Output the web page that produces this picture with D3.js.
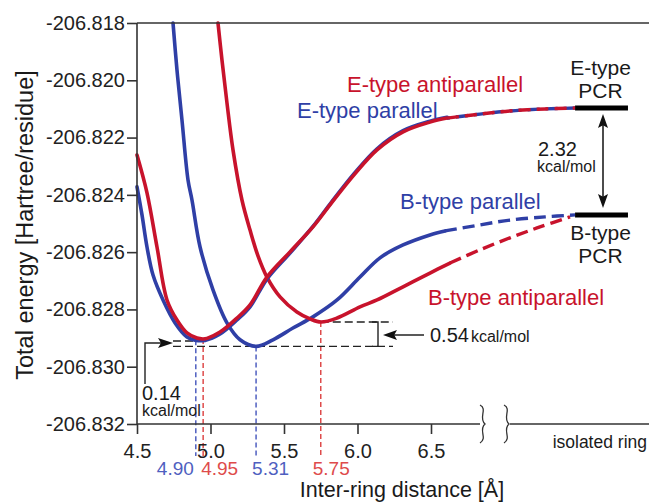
<!DOCTYPE html>
<html>
<head>
<meta charset="utf-8">
<script src="https://cdn.jsdelivr.net/npm/d3@7"></script>
<style>
  body { margin: 0; background: #fff; }
  svg { display: block; font-family: "Liberation Sans", Arial, sans-serif; }
</style>
</head>
<body>
<svg id="chart" width="649" height="502"></svg>
<script>
// values: [inter-ring distance (A), total energy (Hartree/residue)]
var eTypeAntiparallel = [[4.500,-206.82261],[4.568,-206.82393],[4.636,-206.82582],[4.704,-206.82767],[4.772,-206.82837],[4.840,-206.82882],[4.908,-206.82900],[4.949,-206.82903],[4.976,-206.82901],[5.065,-206.82879],[5.180,-206.82830],[5.269,-206.82784],[5.384,-206.82687],[5.541,-206.82599],[5.697,-206.82512],[5.813,-206.82435],[5.975,-206.82331],[6.133,-206.82243],[6.310,-206.82180],[6.493,-206.82146],[6.609,-206.82132]];
var eTypeParallel = [[4.500,-206.82372],[4.534,-206.82470],[4.568,-206.82582],[4.609,-206.82680],[4.677,-206.82767],[4.759,-206.82847],[4.840,-206.82896],[4.901,-206.82908],[4.963,-206.82908],[5.065,-206.82886],[5.180,-206.82837],[5.269,-206.82791],[5.384,-206.82694],[5.541,-206.82603],[5.697,-206.82510],[5.813,-206.82432],[5.975,-206.82327],[6.133,-206.82239],[6.310,-206.82176],[6.493,-206.82143],[6.609,-206.82129]];
var bTypeParallel = [[4.745,-206.81800],[4.772,-206.81964],[4.806,-206.82139],[4.847,-206.82348],[4.874,-206.82418],[4.929,-206.82582],[5.017,-206.82732],[5.112,-206.82847],[5.201,-206.82906],[5.310,-206.82929],[5.425,-206.82906],[5.561,-206.82865],[5.697,-206.82826],[5.861,-206.82767],[6.017,-206.82687],[6.153,-206.82620],[6.310,-206.82575],[6.493,-206.82540],[6.595,-206.82526]];
var bTypeAntiparallel = [[5.051,-206.81800],[5.078,-206.81929],[5.112,-206.82079],[5.153,-206.82243],[5.214,-206.82418],[5.269,-206.82523],[5.323,-206.82613],[5.384,-206.82687],[5.473,-206.82756],[5.588,-206.82809],[5.677,-206.82833],[5.752,-206.82844],[5.861,-206.82830],[6.017,-206.82791],[6.133,-206.82767],[6.310,-206.82721],[6.493,-206.82673],[6.629,-206.82638]];

// dashed extrapolation towards the isolated ring
var eTypeTail = [[6.609,-206.82132],[6.833,-206.82118],[7.037,-206.82107],[7.276,-206.82100],[7.480,-206.82097]];
var bParallelTail = [[6.595,-206.82526],[6.833,-206.82505],[7.037,-206.82488],[7.276,-206.82477],[7.480,-206.82470]];
var bAntiTail = [[6.629,-206.82638],[6.833,-206.82592],[7.037,-206.82550],[7.241,-206.82512],[7.446,-206.82477]];

// isolated PCR levels
var pcrLevels = [-206.82097, -206.82470];
var pcrNames = ["E-type", "B-type"];
var pcrSpan = [7.48, 7.84];

// minima
var minX = [4.90, 4.95, 5.31, 5.75];
var minE = [-206.82908, -206.82903, -206.82929, -206.82844];
var minKind = ["parallel", "antiparallel", "parallel", "antiparallel"];

var xTicks = [4.5, 5.0, 5.5, 6.0, 6.5];
var yTicks = [-206.818, -206.820, -206.822, -206.824, -206.826, -206.828, -206.830, -206.832];

var RED = "#c8132c", BLUE = "#2f3fa6";
var RED_LT = "#de4b4b", BLUE_LT = "#4f5fc0";
var kindColor = { parallel: BLUE_LT, antiparallel: RED_LT };

var svg = d3.select("#chart");
var x = d3.scaleLinear().domain([4.5, 6.5]).range([137, 431]);
var y = d3.scaleLinear().domain([-206.832, -206.818]).range([424, 23]);
var x0 = x(4.5), yBot = y(-206.832), yTop = y(-206.818);

var line = d3.line()
  .x(function(d){ return x(d[0]); })
  .y(function(d){ return y(d[1]); })
  .curve(d3.curveCatmullRom.alpha(0.5));

function arrowHead(g, px, py, dir, len, half){
  // dir: 'l','r','u','d'
  var pts;
  if (dir == 'r') pts = [[px,py],[px-len,py-half],[px-len*0.8,py],[px-len,py+half]];
  if (dir == 'l') pts = [[px,py],[px+len,py-half],[px+len*0.8,py],[px+len,py+half]];
  if (dir == 'u') pts = [[px,py],[px-half,py+len],[px,py+len*0.8],[px+half,py+len]];
  if (dir == 'd') pts = [[px,py],[px-half,py-len],[px,py-len*0.8],[px+half,py-len]];
  g.append("path").attr("d", "M" + pts.join("L") + "Z").attr("fill", "#111");
}

// dashed drop lines at the minima
svg.selectAll(".drop").data(minX).enter().append("line")
  .attr("x1", function(d){ return x(d); })
  .attr("x2", function(d){ return x(d); })
  .attr("y1", function(d, i){ return y(minE[i]); })
  .attr("y2", yBot + 32)
  .attr("stroke", function(d, i){ return kindColor[minKind[i]]; })
  .attr("stroke-width", 1.5)
  .attr("stroke-dasharray", "5,3");

// black dashed reference lines
var ann = svg.append("g").attr("stroke", "#222").attr("stroke-width", 1.4).attr("fill", "none");
ann.append("line").attr("x1", 173).attr("x2", x(4.97)).attr("y1", y(minE[1]) + 2).attr("y2", y(minE[1]) + 2).attr("stroke-dasharray", "8,4");
ann.append("line").attr("x1", 173).attr("x2", 393).attr("y1", y(minE[2])).attr("y2", y(minE[2])).attr("stroke-dasharray", "8,4");
ann.append("line").attr("x1", x(5.75)).attr("x2", 393).attr("y1", y(minE[3])).attr("y2", y(minE[3])).attr("stroke-dasharray", "8,4");
// bracket for 0.54
ann.append("path").attr("d", "M372," + y(minE[3]) + "H378V" + y(minE[2]) + "H372");
ann.append("line").attr("x1", 424).attr("x2", 390).attr("y1", 335).attr("y2", 335);
arrowHead(svg, 383, 335, 'l', 14, 5);
// elbow arrow for 0.14
ann.append("path").attr("d", "M145,384V343H162");
arrowHead(svg, 173, 343, 'r', 15, 5);

// curves
function drawCurve(data, color){
  svg.append("path").datum(data).attr("d", line)
    .attr("fill", "none").attr("stroke", color).attr("stroke-width", 3.6)
    .attr("stroke-linejoin", "round").attr("stroke-linecap", "round");
}
function drawTail(data, color, offset){
  svg.append("path").datum(data).attr("d", line)
    .attr("fill", "none").attr("stroke", color).attr("stroke-width", 3.4)
    .attr("stroke-dasharray", "12,6").attr("stroke-dashoffset", offset);
}
drawCurve(bTypeParallel, BLUE);
drawCurve(bTypeAntiparallel, RED);
drawCurve(eTypeParallel, BLUE);
drawCurve(eTypeAntiparallel, RED);
drawTail(bParallelTail, BLUE, 0);
drawTail(bAntiTail, RED, 0);
drawTail(eTypeTail, BLUE, 9);
drawTail(eTypeTail, RED, 0);

// axes
var axisG = svg.append("g").attr("stroke", "#333").attr("stroke-width", 1.6);
axisG.append("line").attr("x1", x0).attr("x2", 649).attr("y1", yTop).attr("y2", yTop);
axisG.append("line").attr("x1", x0).attr("x2", x0).attr("y1", yTop).attr("y2", yBot);
axisG.append("line").attr("x1", x0).attr("x2", 480).attr("y1", yBot).attr("y2", yBot);
axisG.append("line").attr("x1", 510).attr("x2", 649).attr("y1", yBot).attr("y2", yBot);
[483, 507].forEach(function(bx){
  axisG.append("path").attr("fill", "none").attr("stroke-width", 1.3)
    .attr("d", "M" + (bx - 3) + ",405 C" + (bx + 5) + ",409 " + (bx - 5) + ",418 " + (bx + 2) + ",424 C" + (bx - 5) + ",430 " + (bx + 5) + ",438 " + (bx - 3) + ",443");
});

var yAxis = svg.append("g").attr("transform", "translate(" + x0 + ",0)")
  .call(d3.axisLeft(y).tickValues(yTicks).tickSize(10).tickPadding(2)
    .tickFormat(function(d){ return d.toFixed(3); }));
var xAxis = svg.append("g").attr("transform", "translate(0," + yBot + ")")
  .call(d3.axisBottom(x).tickValues(xTicks).tickSize(10).tickPadding(10)
    .tickFormat(d3.format(".1f")));
[yAxis, xAxis].forEach(function(a){
  a.select(".domain").remove();
  a.selectAll(".tick line").attr("stroke", "#333").attr("stroke-width", 1.6);
  a.selectAll(".tick text").attr("fill", "#222").style("font-size", "20px")
    .style("font-family", "'Liberation Sans', Arial, sans-serif");
});

// PCR bars and labels
svg.selectAll(".pcr").data(pcrLevels).enter().append("line")
  .attr("x1", x(pcrSpan[0])).attr("x2", x(pcrSpan[1]))
  .attr("y1", function(d){ return y(d); }).attr("y2", function(d){ return y(d); })
  .attr("stroke", "#000").attr("stroke-width", 5);
var pcrMid = (x(pcrSpan[0]) + x(pcrSpan[1])) / 2 - 1;
pcrNames.forEach(function(n, i){
  var base = i == 0 ? y(pcrLevels[0]) - 33 : y(pcrLevels[1]) + 25;
  var t = svg.append("text").attr("x", pcrMid).attr("y", base).attr("text-anchor", "middle")
    .style("font-size", "21px").attr("fill", "#1a1a1a");
  t.append("tspan").attr("x", pcrMid).text(n);
  t.append("tspan").attr("x", pcrMid).attr("dy", 23).text("PCR");
});
// 2.32 kcal/mol double arrow
svg.append("line").attr("x1", 603).attr("x2", 603).attr("y1", y(pcrLevels[0]) + 14).attr("y2", y(pcrLevels[1]) - 14)
  .attr("stroke", "#111").attr("stroke-width", 1.5);
arrowHead(svg, 603, y(pcrLevels[0]) + 6, 'u', 14, 5);
arrowHead(svg, 603, y(pcrLevels[1]) - 7, 'd', 14, 5);
svg.append("text").attr("x", 538).attr("y", 156).style("font-size", "20px").attr("fill", "#1a1a1a").text("2.32");
svg.append("text").attr("x", 537).attr("y", 172).style("font-size", "16px").attr("fill", "#1a1a1a").text("kcal/mol");

// 0.54 and 0.14 labels
var t54 = svg.append("text").attr("x", 430).attr("y", 342).attr("fill", "#1a1a1a");
t54.append("tspan").style("font-size", "20px").text("0.54");
t54.append("tspan").style("font-size", "16px").attr("dx", 2).text("kcal/mol");
svg.append("text").attr("x", 142).attr("y", 400).style("font-size", "20px").attr("fill", "#1a1a1a").text("0.14");
svg.append("text").attr("x", 142).attr("y", 416).style("font-size", "16px").attr("fill", "#1a1a1a").text("kcal/mol");

// curve labels
function label(txt, px, py, color){
  svg.append("text").attr("x", px).attr("y", py).style("font-size", "22px").attr("fill", color).text(txt);
}
label("E-type antiparallel", 347, 92, RED);
label("E-type parallel", 297, 118, BLUE);
label("B-type parallel", 400, 209, BLUE);
label("B-type antiparallel", 428, 305, RED);

// coloured minimum positions under the axis
var minAnchor = ["end", "start", "start", "start"];
var minDx = [-2, -2, -4, -8];
svg.selectAll(".minlab").data(minX).enter().append("text")
  .attr("x", function(d, i){ return x(d) + minDx[i]; })
  .attr("y", 475)
  .attr("text-anchor", function(d, i){ return minAnchor[i]; })
  .style("font-size", "19px")
  .attr("fill", function(d, i){ return minKind[i] == "parallel" ? BLUE_LT : RED_LT; })
  .text(function(d){ return d.toFixed(2); });

svg.append("text").attr("x", 647).attr("y", 448).attr("text-anchor", "end")
  .style("font-size", "17.5px").attr("fill", "#1a1a1a").text("isolated ring");

// axis titles
svg.append("text").attr("x", 402).attr("y", 497).attr("text-anchor", "middle")
  .style("font-size", "21.5px").attr("fill", "#1a1a1a").text("Inter-ring distance [Å]");
svg.append("text").attr("transform", "translate(33,225) rotate(-90)").attr("text-anchor", "middle")
  .style("font-size", "23.5px").attr("fill", "#1a1a1a").text("Total energy [Hartree/residue]");
</script>
</body>
</html>
